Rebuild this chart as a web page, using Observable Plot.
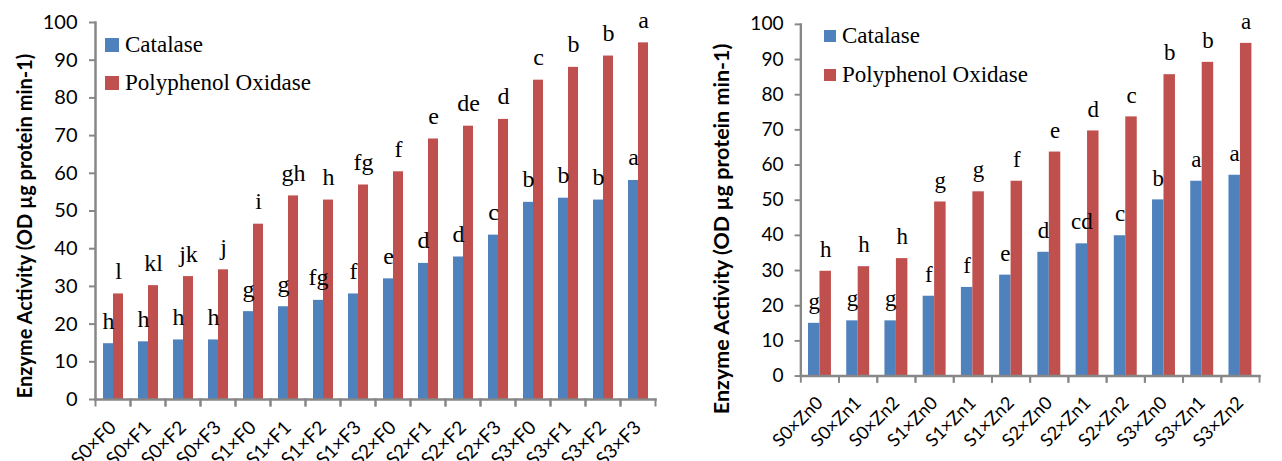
<!DOCTYPE html>
<html>
<head>
<meta charset="utf-8">
<script src="https://cdn.jsdelivr.net/npm/d3@7"></script>
<script src="https://cdn.jsdelivr.net/npm/@observablehq/plot@0.6"></script>
<style>
  html, body { margin: 0; padding: 0; background: #fff; overflow: hidden; }
  #wrap { position: relative; width: 1282px; height: 461px; overflow: hidden; }
  .panel { position: absolute; top: 0; }
  .legend { position: absolute; font-family: "Liberation Serif", "Times New Roman", serif; font-size: 23px; color: #000; }
  .legend .row { display: flex; align-items: center; white-space: nowrap; }
  .legend .sw { display: inline-block; margin-right: 6px; }
</style>
</head>
<body>
<div id="wrap">
  <div id="left" class="panel" style="left:0px"></div>
  <div id="right" class="panel" style="left:700px"></div>
</div>
<script>
// ---- Data: left panel (S × F) ----
const catsA = ["S0×F0","S0×F1","S0×F2","S0×F3","S1×F0","S1×F1","S1×F2","S1×F3","S2×F0","S2×F1","S2×F2","S2×F3","S3×F0","S3×F1","S3×F2","S3×F3"];
const catalaseA = [14.8,15.3,15.8,15.8,23.3,24.6,26.3,28.0,32.0,36.1,37.8,43.6,52.3,53.4,52.9,58.1];
const ppoA = [28.0,30.2,32.6,34.4,46.5,54.0,52.9,56.9,60.4,69.1,72.5,74.3,84.7,88.1,91.1,94.6];
const catalaseLabA = ["h","h","h","h","g","g","fg","f","e","d","d","c","b","b","b","a"];
const ppoLabA = ["l","kl","jk","j","i","gh","h","fg","f","e","de","d","c","b","b","a"];

// ---- Data: right panel (S × Zn) ----
const catsB = ["S0×Zn0","S0×Zn1","S0×Zn2","S1×Zn0","S1×Zn1","S1×Zn2","S2×Zn0","S2×Zn1","S2×Zn2","S3×Zn0","S3×Zn1","S3×Zn2"];
const catalaseB = [15.0,15.7,15.7,22.7,25.2,28.7,35.2,37.6,39.9,50.1,55.4,57.1];
const ppoB = [29.8,31.1,33.4,49.5,52.4,55.4,63.7,69.7,73.7,85.7,89.2,94.6];
const catalaseLabB = ["g","g","g","f","f","e","d","cd","c","b","a","a"];
const ppoLabB = ["h","h","h","g","g","f","e","d","c","b","b","a"];

const seriesNames = ["Catalase","Polyphenol Oxidase"];
const seriesColors = ["#4F81BD","#C0504D"];
const yTicks = [0,10,20,30,40,50,60,70,80,90,100];
const yTitle = "Enzyme Activity (OD µg protein min-1)";

const AXIS = "#878787";

function rowsOf(cats, a, b, la, lb) {
  const rows = [];
  cats.forEach((c, i) => {
    rows.push({cat: c, series: seriesNames[0], value: a[i], label: la[i]});
    rows.push({cat: c, series: seriesNames[1], value: b[i], label: lb[i]});
  });
  return rows;
}

function chart(cats, rows, o) {
  const plotH = o.height - o.marginTop - o.marginBottom;
  return Plot.plot({
    width: o.width, height: o.height,
    marginLeft: o.marginLeft, marginRight: o.marginRight,
    marginTop: o.marginTop, marginBottom: o.marginBottom,
    style: {background: "transparent", overflow: "visible", color: "#000"},
    fx: {domain: cats, padding: 0, label: null},
    x: {domain: seriesNames, paddingInner: 0, paddingOuter: 0.62, axis: null},
    y: {domain: [0, 100], label: null},
    color: {domain: seriesNames, range: seriesColors},
    marks: [
      Plot.barY(rows, {fx: "cat", x: "series", y: "value", fill: "series"}),
      Plot.text(rows, {fx: "cat", x: "series", y: "value", text: "label",
        lineAnchor: "bottom", dy: -15, fontSize: 24,
        fontFamily: "Liberation Serif, Times New Roman, serif", fill: "#000"}),
      Plot.axisY({ticks: yTicks, tickSize: 6, tickPadding: 12, stroke: AXIS, strokeWidth: 2,
        fontSize: 20, fontFamily: "Lato, Carlito, sans-serif", fill: "#000", label: null}),
      Plot.axisFx({anchor: "bottom", tickSize: 0, tickPadding: o.xPad, tickRotate: -45, fontSize: 19,
        fontFamily: "Lato, Carlito, sans-serif", fill: "#000", label: null}),
      Plot.frame({anchor: "left", facet: "super", stroke: AXIS, strokeWidth: 2.5}),
      Plot.frame({anchor: "bottom", facet: "super", stroke: AXIS, strokeWidth: 2.5}),
      Plot.frame({anchor: "left", insetTop: plotH, insetBottom: -6, stroke: AXIS, strokeWidth: 2}),
      Plot.frame({anchor: "right", insetTop: plotH, insetBottom: -6, stroke: AXIS, strokeWidth: 2}),
      Plot.text([yTitle], {frameAnchor: "left", facet: "super", text: d => d, rotate: -90,
        textAnchor: "middle", lineAnchor: "middle",
        dx: o.titleDx, dy: o.titleDy, fontSize: o.titleSize, fontWeight: "bold",
        fontFamily: "Lato, Carlito, sans-serif", fill: "#000"})
    ]
  });
}

function legend(left, top, sw, gap) {
  const div = document.createElement("div");
  div.className = "legend";
  div.style.left = left + "px";
  div.style.top = top + "px";
  seriesNames.forEach((name, i) => {
    const row = document.createElement("div");
    row.className = "row";
    row.style.height = gap + "px";
    const s = document.createElement("span");
    s.className = "sw";
    s.style.width = sw + "px";
    s.style.height = sw + "px";
    s.style.background = seriesColors[i];
    row.appendChild(s);
    const t = document.createElement("span");
    t.textContent = name;
    row.appendChild(t);
    div.appendChild(row);
  });
  return div;
}

const leftEl = document.getElementById("left");
leftEl.appendChild(chart(catsA, rowsOf(catsA, catalaseA, ppoA, catalaseLabA, ppoLabA), {
  width: 700, height: 461, marginLeft: 89, marginRight: 40, marginTop: 22, marginBottom: 62,
  xPad: 25, titleDx: -70, titleDy: 15, titleSize: 20
}));
leftEl.appendChild(legend(105, 26, 14, 38));

const rightEl = document.getElementById("right");
rightEl.appendChild(chart(catsB, rowsOf(catsB, catalaseB, ppoB, catalaseLabB, ppoLabB), {
  width: 609, height: 461, marginLeft: 101, marginRight: 20, marginTop: 25, marginBottom: 68,
  xPad: 25, titleDx: -82, titleDy: 30, titleSize: 22.5
}));
rightEl.appendChild(legend(124, 16, 12, 39));
</script>
</body>
</html>
